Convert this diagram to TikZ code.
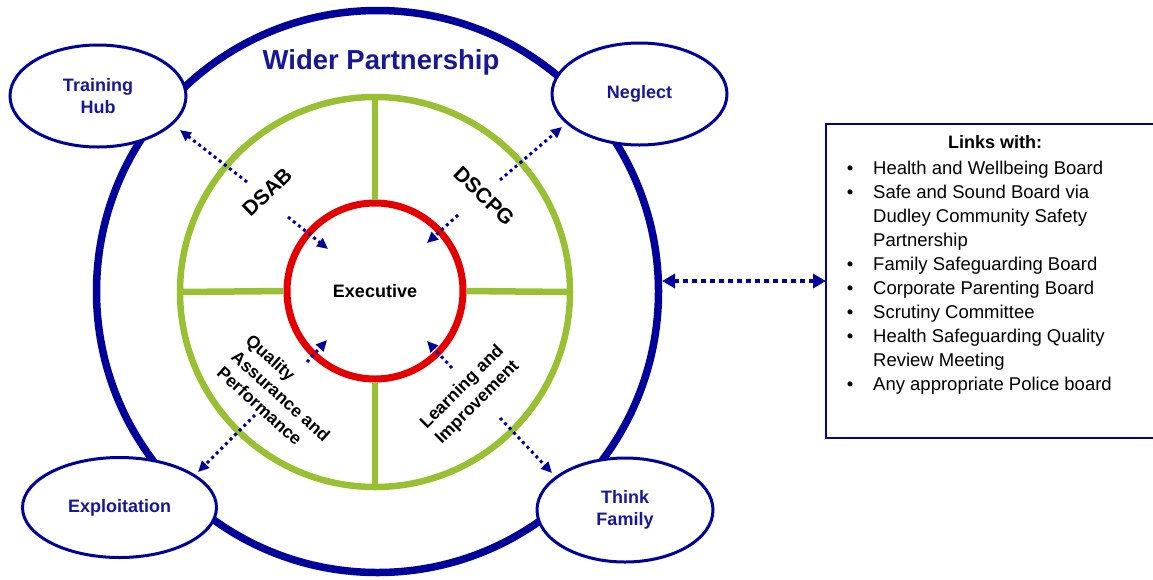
\documentclass[tikz,border=0pt]{standalone}
\usepackage{fontspec}
\setmainfont{Liberation Sans}
\usetikzlibrary{arrows.meta,shapes.geometric}
\definecolor{navy}{RGB}{0,0,155}
\definecolor{txtblue}{RGB}{24,24,150}
\definecolor{lgreen}{RGB}{153,192,51}
\definecolor{cred}{RGB}{228,0,0}
\begin{document}
\begin{tikzpicture}[x=1pt,y=-1pt,
  ell/.style={ellipse, draw=navy, line width=3pt, fill=white, text=txtblue,
    font=\bfseries\fontsize{18}{22.5}\selectfont, align=center, inner sep=0pt, outer sep=0pt},
  dotarrow/.style={draw=navy, line width=3pt, dash pattern=on 3pt off 3.5pt,
    -{Triangle[length=11pt,width=10pt]}},
  bigarrow/.style={draw=navy, line width=4.5pt, dash pattern=on 5pt off 4pt,
    {Triangle[length=13pt,width=14pt]}-{Triangle[length=13pt,width=14pt]}},
  seglabel/.style={font=\bfseries\fontsize{17.5}{21.5}\selectfont, text=black, inner sep=0pt},
  spoke/.style={draw=lgreen, line width=6.5pt},
  listtext/.style={font=\fontsize{18.5}{24}\selectfont, anchor=base west, inner sep=0pt},
]
\useasboundingbox (0,0) rectangle (1153,579);
% outer circle
\node[circle, draw=navy, line width=7.5pt, minimum size=562pt, inner sep=0pt, outer sep=0pt] (outer) at (377.5,291.5) {};
\node[text=txtblue, font=\bfseries\fontsize{27.5}{31}\selectfont, inner sep=0pt] (wp) at (381,62) {Wider Partnership};
% green circle
\node[circle, draw=lgreen, line width=6.5pt, minimum size=390pt, inner sep=0pt, outer sep=0pt] (green) at (375,292) {};
% red circle
\node[circle, draw=cred, line width=7pt, minimum size=176pt, inner sep=0pt, outer sep=0pt,
  font=\bfseries\fontsize{18}{22}\selectfont] (exec) at (375,291) {Executive};
\draw[spoke, shorten >=3.5pt] (green.north) -- (exec.north);
\draw[spoke, shorten >=3.5pt] (green.south) -- (exec.south);
\draw[spoke, shorten >=3.5pt] (green.west) -- (exec.west);
\draw[spoke, shorten >=3.5pt] (green.east) -- (exec.east);
% segment labels
\node[seglabel, font=\bfseries\fontsize{21}{25}\selectfont, rotate=44] (dsab) at (267,192) {DSAB};
\node[seglabel, font=\bfseries\fontsize{21}{25}\selectfont, rotate=-44] (dscpg) at (484,196) {DSCPG};
\node[seglabel, rotate=-42, align=left] (qap) at (281,396) {Quality\\Assurance and\\Performance};
\node[seglabel, rotate=45, align=center] (li) at (470,395) {Learning and\\Improvement};
% ellipses
\node[ell, minimum width=176pt, minimum height=102pt] (th) at (98,96) {Training\\Hub};
\node[ell, minimum width=175pt, minimum height=102pt] (ng) at (639.5,94) {Neglect};
\node[ell, minimum width=194pt, minimum height=100pt] (ex) at (119.5,507.5) {Exploitation};
\node[ell, minimum width=176pt, minimum height=104pt] (tf) at (625,510) {Think\\Family};
% dotted arrows
\coordinate (a1) at (247,182); \coordinate (b1) at (180,130);
\coordinate (a2) at (288,217); \coordinate (b2) at (328,249);
\coordinate (a3) at (500,180); \coordinate (b3) at (562,127);
\coordinate (a4) at (458,215); \coordinate (b4) at (427,243);
\coordinate (a5) at (255,415); \coordinate (b5) at (198,472);
\coordinate (a6) at (307,362); \coordinate (b6) at (327,340);
\coordinate (a7) at (452,368); \coordinate (b7) at (427,341);
\coordinate (a8) at (500,418); \coordinate (b8) at (552,473);
\foreach \i in {1,...,8} { \draw[dotarrow] (a\i) -- (b\i); }
% box
\node[draw=navy, line width=2.5pt, minimum width=340pt, minimum height=314pt,
  anchor=north west, inner sep=0pt, outer sep=0pt] (box) at (826,124) {};
\coordinate (oc) at (662,281);
\draw[bigarrow] (oc) -- (box.west);
\node[font=\bfseries\fontsize{18}{24}\selectfont, anchor=base, inner sep=0pt] (head) at (995,148) {Links with:};
\foreach \t [count=\k from 0] in {Health and Wellbeing Board, Safe and Sound Board via,
  Dudley Community Safety, Partnership, Family Safeguarding Board, Corporate Parenting Board,
  Scrutiny Committee, Health Safeguarding Quality, Review Meeting, Any appropriate Police board}
  { \node[listtext] (l\k) at (873,174+24*\k) {\t}; }
\foreach \k in {0,1,4,5,6,7,9}
  { \node[listtext, anchor=base] (bu\k) at (850,174+24*\k) {\textbullet}; }
\end{tikzpicture}
\end{document}
